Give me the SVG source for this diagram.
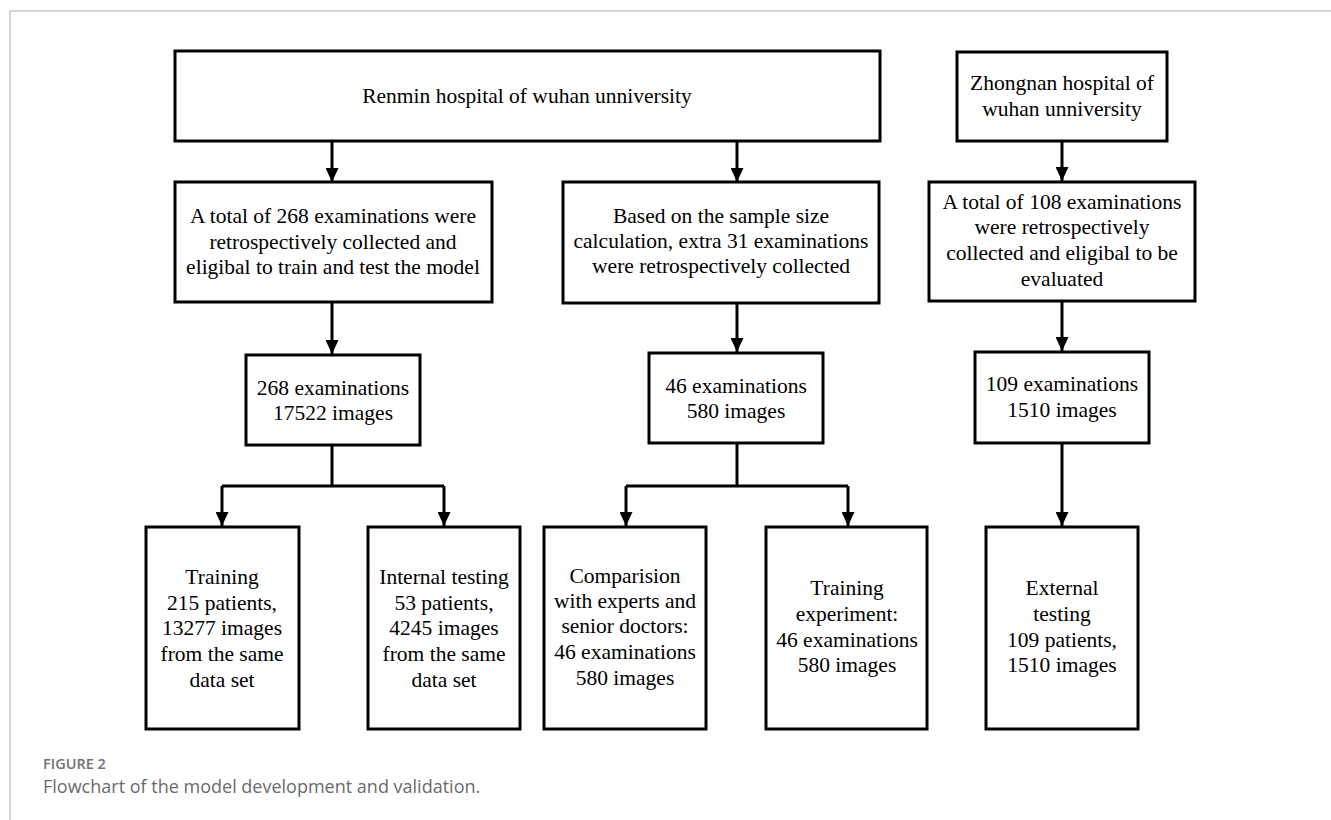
<svg xmlns="http://www.w3.org/2000/svg" width="1331" height="820" viewBox="0 0 1331 820">
<style>
.box{fill:#fff;stroke:#000;stroke-width:3}
.t{font-family:"Liberation Serif","Times New Roman",serif;font-size:21.5px;fill:#000;text-anchor:middle}
.c{fill:none;stroke:#000;stroke-width:3}
.cap1{font-family:"Open Sans","Liberation Sans",sans-serif;font-size:14.5px;font-weight:600;fill:#707070}
.cap2{font-family:"Open Sans","Liberation Sans",sans-serif;font-size:18px;fill:#6a6a6a}
</style>
<defs>
<marker id="ah" markerWidth="14" markerHeight="13" refX="14" refY="6.5" orient="auto" markerUnits="userSpaceOnUse">
<path d="M0,0 L14,6.5 L0,13 Z" fill="#000"/>
</marker>
</defs>
<rect width="1331" height="820" fill="#fff"/>
<path d="M10,820 V11 H1331" fill="none" stroke="#c8c8c8" stroke-width="1.5"/>

<g id="connectors">
<path class="c" d="M332,141 V182" marker-end="url(#ah)"/>
<path class="c" d="M737,141 V182" marker-end="url(#ah)"/>
<path class="c" d="M1062,141 V181" marker-end="url(#ah)"/>
<path class="c" d="M332,302 V354" marker-end="url(#ah)"/>
<path class="c" d="M737,303 V352" marker-end="url(#ah)"/>
<path class="c" d="M1062,301 V351" marker-end="url(#ah)"/>
<path class="c" d="M332,445 V486"/>
<path class="c" d="M222,486 H444"/>
<path class="c" d="M222,486 V526" marker-end="url(#ah)"/>
<path class="c" d="M444,486 V526" marker-end="url(#ah)"/>
<path class="c" d="M737,443 V486"/>
<path class="c" d="M626,486 H848"/>
<path class="c" d="M626,486 V526" marker-end="url(#ah)"/>
<path class="c" d="M848,486 V526" marker-end="url(#ah)"/>
<path class="c" d="M1062,443 V526" marker-end="url(#ah)"/>
</g>

<g id="renmin">
<rect class="box" x="175" y="51" width="705" height="90"/>
<text class="t" x="527" y="103">Renmin hospital of wuhan unniversity</text>
</g>

<g id="zhongnan">
<rect class="box" x="957" y="52" width="210" height="89"/>
<text class="t" x="1062" y="90">Zhongnan hospital of</text>
<text class="t" x="1062" y="116">wuhan unniversity</text>
</g>

<g id="total268">
<rect class="box" x="175" y="182" width="317" height="120"/>
<text class="t" x="333" y="223">A total of 268 examinations were</text>
<text class="t" x="333" y="249">retrospectively collected and</text>
<text class="t" x="333" y="274">eligibal to train and test the model</text>
</g>

<g id="extra31">
<rect class="box" x="563" y="182" width="316" height="121"/>
<text class="t" x="721" y="223">Based on the sample size</text>
<text class="t" x="721" y="248">calculation, extra 31 examinations</text>
<text class="t" x="721" y="273">were retrospectively collected</text>
</g>

<g id="total108">
<rect class="box" x="929" y="182" width="266" height="119"/>
<text class="t" x="1062" y="209">A total of 108 examinations</text>
<text class="t" x="1062" y="234">were retrospectively</text>
<text class="t" x="1062" y="260">collected and eligibal to be</text>
<text class="t" x="1062" y="286">evaluated</text>
</g>

<g id="exam268">
<rect class="box" x="246" y="355" width="174" height="90"/>
<text class="t" x="333" y="395">268 examinations</text>
<text class="t" x="333" y="420">17522 images</text>
</g>

<g id="exam46">
<rect class="box" x="649" y="353" width="174" height="90"/>
<text class="t" x="736" y="393">46 examinations</text>
<text class="t" x="736" y="418">580 images</text>
</g>

<g id="exam109">
<rect class="box" x="975" y="352" width="174" height="91"/>
<text class="t" x="1062" y="391">109 examinations</text>
<text class="t" x="1062" y="417">1510 images</text>
</g>

<g id="training">
<rect class="box" x="146" y="527" width="153" height="202"/>
<text class="t" x="222" y="584">Training</text>
<text class="t" x="222" y="610">215 patients,</text>
<text class="t" x="222" y="635">13277 images</text>
<text class="t" x="222" y="661">from the same</text>
<text class="t" x="222" y="687">data set</text>
</g>

<g id="internal">
<rect class="box" x="368" y="527" width="152" height="202"/>
<text class="t" x="444" y="584">Internal testing</text>
<text class="t" x="444" y="610">53 patients,</text>
<text class="t" x="444" y="635">4245 images</text>
<text class="t" x="444" y="661">from the same</text>
<text class="t" x="444" y="687">data set</text>
</g>

<g id="comparision">
<rect class="box" x="544" y="527" width="162" height="202"/>
<text class="t" x="625" y="583">Comparision</text>
<text class="t" x="625" y="608">with experts and</text>
<text class="t" x="625" y="633">senior doctors:</text>
<text class="t" x="625" y="659">46 examinations</text>
<text class="t" x="625" y="685">580 images</text>
</g>

<g id="trainexp">
<rect class="box" x="766" y="527" width="161" height="202"/>
<text class="t" x="847" y="595">Training</text>
<text class="t" x="847" y="621">experiment:</text>
<text class="t" x="847" y="647">46 examinations</text>
<text class="t" x="847" y="672">580 images</text>
</g>

<g id="external">
<rect class="box" x="986" y="527" width="152" height="202"/>
<text class="t" x="1062" y="595">External</text>
<text class="t" x="1062" y="621">testing</text>
<text class="t" x="1062" y="647">109 patients,</text>
<text class="t" x="1062" y="672">1510 images</text>
</g>

<text class="cap1" x="43" y="769">FIGURE 2</text>
<text class="cap2" x="43" y="793">Flowchart of the model development and validation.</text>
</svg>
